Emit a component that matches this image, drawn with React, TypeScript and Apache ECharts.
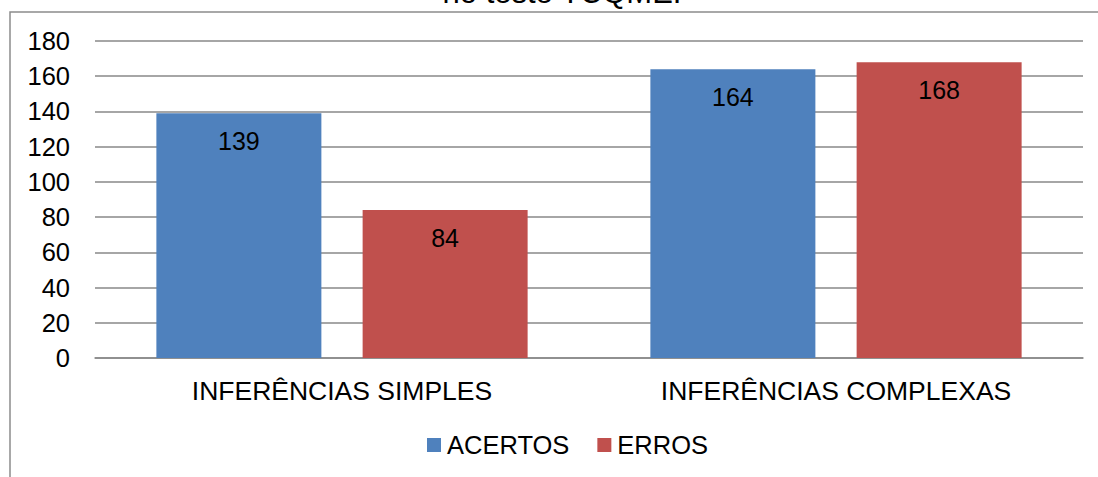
import React, { useEffect, useRef } from "react";
import * as echarts from "echarts";

const categories = ["INFERÊNCIAS SIMPLES", "INFERÊNCIAS COMPLEXAS"];
const acertos = [139, 164];
const erros = [84, 168];
const seriesNames = ["ACERTOS", "ERROS"];
const titleText = "no teste TCQME.";

const FONT = "'Liberation Sans', Arial, sans-serif";

export default function App() {
  const ref = useRef<HTMLDivElement>(null);
  useEffect(() => {
    if (!ref.current) return;
    const chart = echarts.init(ref.current, undefined, { renderer: "svg" });
    const label = {
      show: true,
      position: "insideTop" as const,
      distance: 15,
      color: "#000",
      fontSize: 25,
      fontFamily: FONT,
    };
    chart.setOption({
      animation: false,
      backgroundColor: "#fff",
      textStyle: { fontFamily: FONT },
      graphic: [
        {
          type: "rect",
          z: -10,
          shape: { x: 10, y: 12, width: 1200, height: 600 },
          style: { fill: "none", stroke: "#8c8c8c", lineWidth: 1.5 },
        },
        {
          type: "text",
          x: 562,
          y: -8,
          style: {
            text: titleText,
            fontSize: 31,
            fontFamily: FONT,
            fill: "#000",
            align: "center",
            verticalAlign: "middle",
          },
        },
      ],
      legend: {
        left: 422,
        top: 427,
        itemWidth: 14,
        itemHeight: 14,
        itemGap: 28,
        icon: "rect",
        textStyle: { fontSize: 25.5, fontFamily: FONT, color: "#000", padding: [0, 0, 0, 1] },
        data: seriesNames,
      },
      grid: { left: 95, right: 15, top: 41, bottom: 119, containLabel: false },
      xAxis: {
        type: "category",
        data: categories,
        axisTick: { show: false },
        axisLine: { show: true, lineStyle: { color: "#898989", width: 1.5 } },
        axisLabel: { color: "#000", fontSize: 26.5, fontFamily: FONT, margin: 19 },
      },
      yAxis: {
        type: "value",
        min: 0,
        max: 180,
        interval: 20,
        axisLine: { show: false },
        axisTick: { show: false },
        axisLabel: { color: "#000", fontSize: 25.5, fontFamily: FONT, margin: 25 },
        splitLine: { lineStyle: { color: "#898989", width: 1.5 } },
      },
      series: [
        {
          name: seriesNames[0],
          type: "bar",
          data: acertos,
          barWidth: 165,
          barGap: "25%",
          itemStyle: { color: "#4F81BD" },
          label,
        },
        {
          name: seriesNames[1],
          type: "bar",
          data: erros,
          barWidth: 165,
          barGap: "25%",
          itemStyle: { color: "#C0504D" },
          label,
        },
      ],
    });
    return () => chart.dispose();
  }, []);
  return (
    <div
      ref={ref}
      style={{ position: "absolute", left: 0, top: 0, width: 1098, height: 477 }}
    />
  );
}
